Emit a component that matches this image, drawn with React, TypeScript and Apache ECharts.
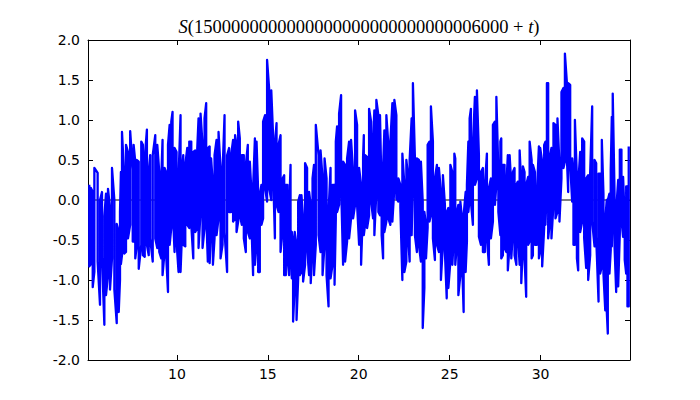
import React, { useEffect, useRef } from "react";
import * as echarts from "echarts";

// Sample positions t (x axis) with the upper and lower end of each vertical stroke of S(T+t)
const tVals = [
  5.18, 5.27, 5.37, 5.46, 5.64, 5.77, 5.88, 6.01, 6.10, 6.21, 6.32, 6.43, 6.56, 6.69, 6.80, 6.87, 6.92, 6.98, 7.10, 7.20, 7.31, 7.43, 7.57,
  7.62, 7.71, 7.80, 7.90, 8.04, 8.13, 8.23, 8.35, 8.45, 8.53, 8.67, 8.81, 8.92, 9.03, 9.14, 9.21, 9.32, 9.40, 9.51, 9.60, 9.69, 9.76, 9.87, 9.98, 10.09,
  10.20, 10.27, 10.35, 10.46, 10.57, 10.68, 10.79, 10.90, 11.01, 11.12, 11.19, 11.30, 11.41, 11.52, 11.61, 11.70, 11.80, 11.88, 11.98, 12.07, 12.18, 12.29, 12.40, 12.51, 12.62,
  12.76, 12.87, 12.98, 13.09, 13.20, 13.28, 13.37, 13.46, 13.57, 13.68, 13.79, 13.90, 14.01, 14.10, 14.19, 14.29, 14.38, 14.47, 14.56, 14.65, 14.74, 14.85, 14.96, 15.07, 15.19,
  15.29, 15.39, 15.48, 15.59, 15.70, 15.81, 15.90, 15.99, 16.08, 16.17, 16.25, 16.32, 16.39, 16.48, 16.58, 16.67, 16.76, 16.85, 16.94, 17.05, 17.16, 17.27, 17.36, 17.46, 17.54, 17.64,
  17.79, 17.90, 18.01, 18.12, 18.23, 18.34, 18.45, 18.56, 18.67, 18.74, 18.81, 18.92, 19.03, 19.14, 19.25, 19.36, 19.47, 19.58, 19.69, 19.80, 19.91, 20.02, 20.13, 20.24,
  20.28, 20.35, 20.46, 20.57, 20.68, 20.79, 20.86, 20.97, 21.08, 21.17, 21.26, 21.34, 21.41, 21.52, 21.63, 21.74, 21.85, 21.96, 22.07, 22.18, 22.29, 22.40, 22.51, 22.62, 22.73,
  22.80, 22.91, 22.98, 23.09, 23.20, 23.31, 23.42, 23.52, 23.61, 23.70, 23.79, 23.89, 23.97, 24.08, 24.19, 24.30, 24.41, 24.52, 24.63, 24.74, 24.84, 24.93, 25.04, 25.15, 25.26,
  25.31, 25.40, 25.48, 25.59, 25.68, 25.77, 25.88, 25.95, 26.03, 26.10, 26.17, 26.28, 26.39, 26.50, 26.61, 26.72, 26.83, 26.94, 27.05, 27.16, 27.27, 27.38, 27.49, 27.57, 27.68, 27.79,
  27.84, 27.93, 28.02, 28.12, 28.20, 28.30, 28.39, 28.48, 28.57, 28.67, 28.75, 28.85, 28.94, 29.03, 29.12, 29.21, 29.32, 29.40, 29.51, 29.58, 29.69, 29.80, 29.91, 29.98, 30.09, 30.20, 30.27, 30.35,
  30.42, 30.53, 30.60, 30.71, 30.82, 30.93, 31.04, 31.15, 31.26, 31.34, 31.45, 31.52, 31.63, 31.74, 31.81, 31.89, 32.00, 32.07, 32.18, 32.29, 32.40, 32.51, 32.62, 32.73, 32.84,
  32.97, 33.06, 33.19, 33.28, 33.37, 33.46, 33.56, 33.64, 33.70, 33.79, 33.86, 33.92, 33.97, 34.07, 34.16, 34.27, 34.36, 34.45, 34.54, 34.63, 34.71, 34.78, 34.85,
];

const highVals = [
  0.19, 0.15, 0.10, 0.40, 0.34, 0.00, 0.10, -0.20, 0.08, 0.14, -0.10, 0.40, 0.00, -0.30, -0.40, -0.15, 0.35, 0.85, 0.30, 0.69, 0.60, 0.86, 0.38,
  0.69, 0.48, 0.50, 0.48, 0.73, 0.69, 0.52, 0.88, 0.35, 0.56, 0.56, 0.81, 0.69, 0.35, 0.27, 0.75, 0.40, 0.35, 0.69, 0.94, 0.98, 1.10, 0.65, 0.60, 0.27,
  1.06, 0.35, 0.56, 0.44, 0.65, 0.73, 0.73, 0.60, 0.62, 0.65, 1.02, 1.08, 0.69, 1.02, 1.21, 0.65, 0.67, 0.52, 0.19, 0.56, 0.75, 0.85, 0.40, 0.35, 1.06,
  0.56, 0.65, 0.56, 0.75, 0.81, 0.69, 0.98, 0.77, 0.56, 0.56, 0.44, 0.69, 0.48, 0.10, 0.15, 0.77, 0.73, 0.10, 0.06, 0.19, 0.98, 1.06, 1.75, 1.40, 1.37,
  0.81, 0.69, 0.96, 0.69, 0.81, 0.27, 0.31, 0.19, 0.19, -0.15, 0.44, -0.40, -0.52, -0.40, -0.56, -0.02, 0.06, 0.06, -0.23, 0.46, 0.40, 0.10, -0.06, 0.27, 0.44, 0.94,
  0.56, 0.62, 0.27, 0.52, 0.27, -0.15, 0.40, 0.19, 0.19, 0.73, 0.92, 1.08, 1.31, 0.48, 0.44, 0.52, 0.73, 0.75, 0.35, 1.12, 0.94, 0.40, 0.19, 0.54,
  0.81, 0.56, 0.54, 1.14, 0.98, 0.73, 1.12, 1.25, 1.06, 1.06, 0.06, 0.40, 0.87, 1.06, 0.69, 0.73, 1.21, 1.25, 1.06, 0.27, 0.19, 0.58, 0.19, 0.50, 0.27,
  0.50, 1.02, 1.46, 0.52, 0.52, 0.50, 0.48, -0.02, -0.15, -0.31, 0.69, 0.73, 1.17, 0.73, 0.27, 0.44, 0.40, 0.10, 0.31, -0.06, -0.15, -0.10, 0.44, 0.35, 0.58,
  0.52, -0.15, -0.06, -0.02, -0.23, -0.19, 0.10, 0.19, 0.73, 1.02, 1.14, 0.69, 1.29, 1.37, 0.56, 0.35, 0.40, 0.19, 0.58, 0.15, 0.27, 0.94, 0.98, 1.29, 0.35, 0.73,
  0.77, 0.44, 0.44, 0.19, 0.56, 0.56, 0.19, 0.35, 0.40, 0.19, 0.23, 0.62, 0.19, 0.42, 0.35, 0.19, 0.29, 0.73, 0.50, 0.44, 0.35, 0.10, 0.67, 0.65, 0.48, 0.69, 0.73, 1.46,
  1.46, 0.56, 0.65, 0.96, 0.94, 1.02, 0.44, 1.35, 1.40, 1.83, 1.46, 1.46, 1.44, 0.52, 0.35, 1.00, 0.27, 0.19, 0.60, 0.77, 0.73, 0.27, 0.31, 0.35, 1.17,
  0.50, 0.46, 0.33, 0.33, 0.75, 0.08, -0.25, 0.00, 0.00, 0.08, 0.38, 1.04, 1.33, 0.08, -0.13, 0.25, 0.63, 0.63, 0.29, -0.25, 0.17, 0.17, 0.67,
];

const lowVals = [
  -0.83, -0.80, -1.09, -0.90, -0.77, -1.31, -0.73, -1.56, -1.19, -0.94, -1.12, -0.73, -1.12, -1.54, -1.40, -1.00, -0.80, -0.69, -0.67, -0.65, -0.48, -0.31, -0.52,
  -0.52, -0.73, -0.56, -0.86, -0.56, -0.69, -0.71, -0.56, -0.69, -0.48, -0.77, -0.48, -0.60, -0.65, -0.73, -0.94, -0.65, -0.65, -1.15, -0.56, -0.35, -0.06, -0.65, -0.52, -0.90,
  -0.90, -0.48, -0.56, -0.58, -0.31, -0.35, -0.31, -0.73, -0.40, -0.35, -0.60, -0.15, -0.60, -0.35, -0.15, -0.77, -0.79, -0.40, -0.81, -0.48, -0.44, -0.23, -0.73, -0.56, -0.40,
  -0.90, -0.15, -0.15, -0.27, -0.23, -0.40, -0.27, -0.19, -0.31, -0.48, -0.65, -0.40, -0.48, -0.31, -0.94, -0.81, -0.56, -0.90, -0.90, -0.31, -0.23, 0.15, -0.02, 0.15, 0.00,
  0.35, -0.48, -0.06, -0.15, -0.65, -0.40, -0.94, -0.94, -0.73, -0.94, -0.60, -0.98, -1.52, -1.06, -1.50, -0.98, -0.94, -0.90, -1.02, -0.81, -0.60, -0.94, -1.04, -0.56, -0.94, -0.56,
  -0.44, -0.65, -0.94, -0.56, -0.94, -1.33, -0.98, -0.81, -1.06, -0.23, -0.15, -0.06, 0.19, -0.81, -0.77, -0.52, -0.48, -0.23, -0.23, -0.06, -0.06, -0.56, -0.81, -0.06,
  -0.44, -0.31, -0.35, -0.19, -0.02, -0.23, -0.44, 0.10, -0.15, -0.19, -0.44, -0.73, -0.40, -0.27, -0.23, -0.31, -0.27, 0.15, 0.02, -0.02, -0.10, -1.00, -0.90, -0.77, -0.52,
  -0.77, -0.44, 0.19, -0.44, -0.65, -0.56, -0.77, -1.60, -1.10, -0.73, -0.35, -0.27, -0.19, -0.48, -0.75, -0.56, -0.65, -1.00, -0.56, -0.65, -1.23, -1.10, -0.77, -0.81, -0.31,
  -0.81, -0.56, -1.19, -0.94, -0.73, -1.40, -0.90, -0.52, -0.15, 0.02, -0.02, -0.31, 0.19, 0.27, -0.46, -0.56, -0.65, -0.65, -0.48, -0.81, -0.48, -0.27, -0.06, 0.19, -0.15, -0.44,
  -0.73, -0.69, -0.60, -0.65, -0.88, -0.56, -0.73, -0.40, -0.69, -0.81, -0.40, -0.81, -1.04, -0.56, -0.73, -1.21, -0.56, -0.52, -0.73, -0.69, -0.56, -0.56, -0.73, -0.65, -0.83, -0.35, -0.31, 0.23,
  -0.48, -0.23, -0.48, -0.06, -0.23, -0.15, -0.27, 0.27, 0.40, 0.48, 0.52, 0.10, 0.44, -0.02, -0.56, -0.56, -0.73, -0.88, -0.40, -0.27, -0.48, -0.85, -1.00, -0.69, -0.27,
  -0.58, -0.46, -1.27, -0.92, -0.83, -0.92, -1.38, -1.38, -1.67, -0.92, -0.63, -0.58, -0.25, -0.58, -1.15, -1.08, -0.42, -0.25, -0.46, -0.75, -0.92, -1.33, -1.33,
];

const xTicks = [10, 15, 20, 25, 30];
const xRange = [5.11, 34.92];
const yRange = [-2, 2];
const zeroLine = [0, 0];
const titleNumber = "1500000000000000000000000000006000";

export default function App() {
  const ref = useRef<HTMLDivElement>(null);
  useEffect(() => {
    if (!ref.current) return;
    const chart = echarts.init(ref.current, undefined, { renderer: "svg" });

    const n = Math.min(tVals.length, highVals.length, lowVals.length);
    const data: number[][] = [];
    for (let i = 0; i < n; i++) {
      const hi = [tVals[i], highVals[i]];
      const lo = [tVals[i], lowVals[i]];
      if (i % 2 === 0) data.push(hi, lo);
      else data.push(lo, hi);
    }

    const labelFont = { fontFamily: "DejaVu Sans", fontSize: 14, color: "#000" };
    const axisLine = { show: true, onZero: false, lineStyle: { color: "#000", width: 1 } };
    const tick = { show: true, inside: true, length: 5, lineStyle: { color: "#000", width: 1 } };

    chart.setOption({
      animation: false,
      backgroundColor: "#fff",
      grid: { left: 88, right: 70, top: 40, bottom: 40 },
      xAxis: [
        {
          type: "value", position: "bottom", min: xRange[0], max: xRange[1],
          axisLine, axisTick: { ...tick, customValues: xTicks },
          axisLabel: { ...labelFont, margin: 7, customValues: xTicks, formatter: (v: number) => String(v) },
          splitLine: { show: false },
        },
        {
          type: "value", position: "top", min: xRange[0], max: xRange[1],
          axisLine, axisTick: { ...tick, customValues: xTicks },
          axisLabel: { show: false }, splitLine: { show: false },
        },
      ],
      yAxis: [
        {
          type: "value", position: "left", min: yRange[0], max: yRange[1], interval: 0.5,
          axisLine, axisTick: tick,
          axisLabel: { ...labelFont, margin: 8, formatter: (v: number) => v.toFixed(1) },
          splitLine: { show: false },
        },
        {
          type: "value", position: "right", min: yRange[0], max: yRange[1], interval: 0.5,
          axisLine, axisTick: tick, axisLabel: { show: false }, splitLine: { show: false },
        },
      ],
      graphic: [
        {
          type: "text",
          x: 359,
          y: 27,
          style: {
            text: `{i|S}{n|(${titleNumber} + }{i|t}{n|)}`,
            align: "center",
            verticalAlign: "middle",
            rich: {
              i: { fontFamily: "Liberation Serif", fontStyle: "italic", fontSize: 18.5, fill: "#000" },
              n: { fontFamily: "Liberation Serif", fontSize: 18.5, fill: "#000" },
            },
          },
        },
      ],
      series: [
        {
          type: "line",
          data: [[xRange[0], zeroLine[0]], [xRange[1], zeroLine[1]]],
          showSymbol: false,
          lineStyle: { color: "#000", width: 1 },
          z: 1,
          silent: true,
        },
        {
          type: "line",
          data,
          showSymbol: false,
          lineStyle: { color: "#0000ff", width: 2.3, join: "round" },
          z: 2,
          clip: true,
        },
      ],
    });
    return () => chart.dispose();
  }, []);
  return <div ref={ref} style={{ position: "fixed", left: 0, top: 0, width: 700, height: 400 }} />;
}
